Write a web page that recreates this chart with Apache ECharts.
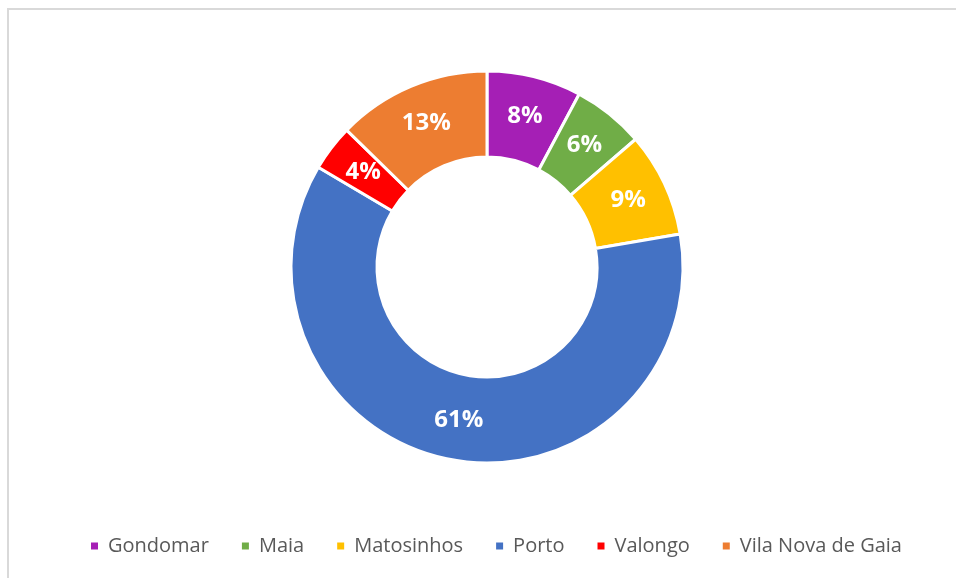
<!DOCTYPE html>
<html>
<head>
<meta charset="utf-8">
<script src="https://cdn.jsdelivr.net/npm/echarts@6/dist/echarts.min.js"></script>
<style>
  html, body { margin: 0; padding: 0; background: #fff; }
  #chart { width: 956px; height: 578px; }
</style>
</head>
<body>
<div id="chart"></div>
<script>
// concelhos e percentagens
const categories = ['Gondomar', 'Maia', 'Matosinhos', 'Porto', 'Valongo', 'Vila Nova de Gaia'];
const values = [7.8, 5.9, 8.6, 61.2, 3.8, 12.7];
const colors = ['#A51FB5', '#70AD47', '#FFC000', '#4472C4', '#FF0000', '#ED7D31'];

const chart = echarts.init(document.getElementById('chart'));

chart.setOption({
  backgroundColor: '#fff',
  color: colors,
  // moldura do gráfico
  graphic: [{
    type: 'rect',
    shape: { x: 8, y: 9, width: 970, height: 600 },
    style: { fill: 'none', stroke: '#D9D9D9', lineWidth: 2 },
    silent: true
  }],
  legend: {
    data: categories,
    bottom: 17,
    left: 84,
    icon: 'rect',
    itemWidth: 9,
    itemHeight: 9,
    itemGap: 31,
    textStyle: {
      fontFamily: 'Open Sans',
      fontSize: 20,
      color: '#595959',
      padding: [0, 0, 0, 4]
    }
  },
  series: [{
    type: 'pie',
    center: [487, 267],
    radius: [110, 196],
    startAngle: 90,
    clockwise: true,
    avoidLabelOverlap: false,
    itemStyle: {
      borderColor: '#fff',
      borderWidth: 3
    },
    label: {
      show: true,
      position: 'inside',
      color: '#fff',
      fontFamily: 'Open Sans',
      fontWeight: 'bold',
      fontSize: 24,
      formatter: function(p) {
        return Math.round(p.percent) + '%';
      }
    },
    labelLine: { show: false },
    emphasis: { disabled: true },
    data: categories.map((name, i) => ({ name: name, value: values[i] }))
  }]
});
</script>
</body>
</html>
